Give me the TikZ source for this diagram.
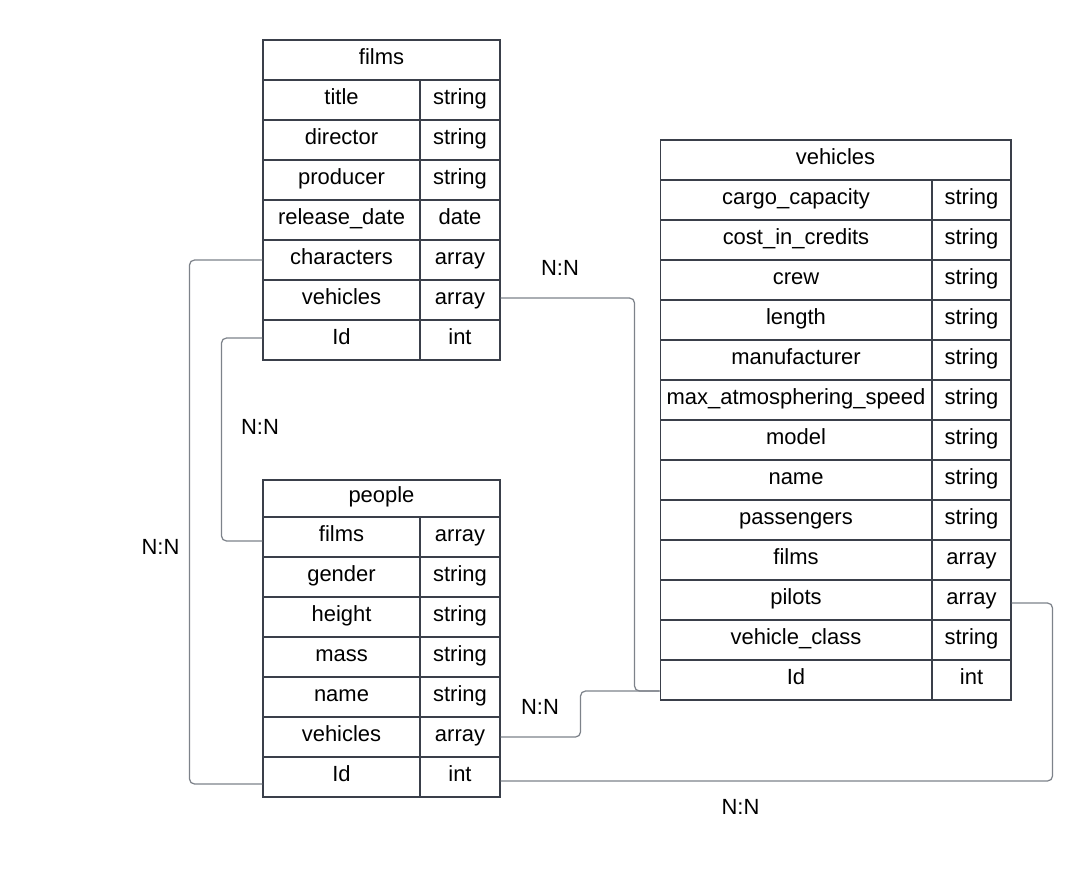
\documentclass[tikz,border=0pt]{standalone}
\usepackage{fontspec}
\setmainfont{Liberation Sans}
\usepackage{tikz}
\usetikzlibrary{calc}
\definecolor{gridline}{HTML}{3A3F4A}
\definecolor{linkline}{HTML}{7D828A}

\begin{document}
\begin{tikzpicture}[x = .02cm, y = -.02cm,
        cell/.style = {draw = gridline, line width = .6pt, inner sep = 0pt,
                       minimum height = .8cm, text height = .75em, text depth = .27em,
                       font = \fontsize{12.5}{14}\selectfont},
        namecell/.style = {cell, minimum width = 3.14cm},
        typecell/.style = {cell, minimum width = 1.6cm},
        link/.style = {draw = linkline, line width = .7pt, rounded corners = .1cm},
        card/.style = {font = \fontsize{12.5}{14}\selectfont, inner sep = 1pt}]
        \useasboundingbox (0,0) rectangle (1092,880);

        \node[cell, minimum width = 4.74cm] (films) at (381.5,60) {films};
        \foreach \key/\field/\type [count = \i] in {title/title/string,
                 director/director/string, producer/producer/string,
                 release/release\_date/date, characters/characters/array,
                 vehicles/vehicles/array, id/Id/int} {
          \node[namecell] (films-\key) at (341.5, 60 + 40*\i) {\field};
          \node[typecell] (films-\key-t) at (460, 60 + 40*\i) {\type};
        }

        \node[cell, minimum width = 4.74cm, minimum height = .74cm] (people) at (381.5,498.5) {people};
        \foreach \key/\field/\type [count = \i] in {films/films/array,
                 gender/gender/string, height/height/string, mass/mass/string,
                 name/name/string, vehicles/vehicles/array, id/Id/int} {
          \node[namecell] (people-\key) at (341.5, 497 + 40*\i) {\field};
          \node[typecell] (people-\key-t) at (460, 497 + 40*\i) {\type};
        }

        \node[cell, minimum width = 7.02cm] (vehicles) at (835.5,160) {vehicles};
        \foreach \key/\field/\type [count = \i] in {cargo/cargo\_capacity/string,
                 cost/cost\_in\_credits/string, crew/crew/string,
                 length/length/string, manufacturer/manufacturer/string,
                 speed/max\_atmosphering\_speed/string, model/model/string,
                 name/name/string, passengers/passengers/string,
                 films/films/array, pilots/pilots/array,
                 class/vehicle\_class/string, id/Id/int} {
          \node[cell, minimum width = 5.44cm] (vehicles-\key) at (796, 160 + 40*\i) {\field};
          \node[cell, minimum width = 1.58cm] (vehicles-\key-t) at (971.5, 160 + 40*\i) {\type};
        }

        \draw[link] (films-characters.west) -- ++(-73,0) |- ($(people-id.west)+(0,7)$);
        \draw[link] ($(films-id.west)+(0,-2)$) -- ++(-41,0) |- ($(people-films.west)+(0,4)$);
        \draw[link] ($(films-vehicles-t.east)+(0,-2)$) -- ++(134,0) |- ($(vehicles-id.west)+(0,11)$);
        \draw[link] (people-vehicles-t.east) -- ++(80,0) |- ($(vehicles-id.west)+(0,11)$);
        \draw[link] ($(vehicles-pilots-t.east)+(0,3)$) -- ++(41,0) |- ($(people-id-t.east)+(0,4)$);

        \node[card] (nn-films-vehicles) at (560,268) {N:N};
        \node[card] (nn-films-people) at (260,427) {N:N};
        \node[card] (nn-characters) at (160.5,546.5) {N:N};
        \node[card] (nn-people-vehicles) at (540,707) {N:N};
        \node[card] (nn-pilots) at (740.5,806.5) {N:N};
      \end{tikzpicture}
\end{document}
